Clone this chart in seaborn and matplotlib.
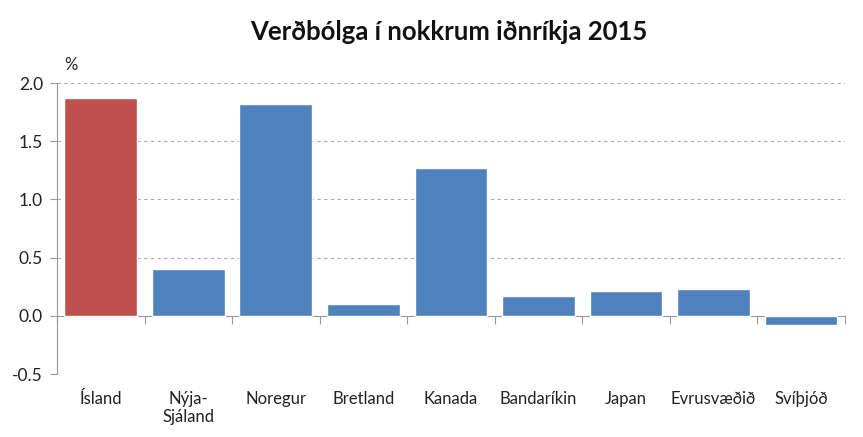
import matplotlib
matplotlib.use("Agg")
import matplotlib.pyplot as plt
import seaborn as sns
import pandas as pd

countries = ["Ísland", "Nýja-\nSjáland", "Noregur", "Bretland", "Kanada",
             "Bandaríkin", "Japan", "Evrusvæðið", "Svíþjóð"]
values = [1.87, 0.40, 1.82, 0.10, 1.27, 0.17, 0.21, 0.23, -0.08]
colors = ["#C0504D"] + ["#4F81BD"] * 8
yticks = [-0.5, 0.0, 0.5, 1.0, 1.5, 2.0]

sns.set_theme(style="white")
plt.rcParams["font.family"] = ["Lato", "DejaVu Sans"]

df = pd.DataFrame({"land": countries, "verdbolga": values})

fig = plt.figure(figsize=(8.63, 4.37), dpi=100)
ax = fig.add_axes([0.066, 0.144, 0.913, 0.666])

sns.barplot(data=df, x="land", y="verdbolga", hue="land", palette=colors,
            legend=False, width=0.83, saturation=1, ax=ax)

ax.set_ylim(-0.5, 2.0)
ax.set_xlim(-0.5, len(countries) - 0.5)
ax.set_yticks(yticks)
ax.set_yticklabels([f"{t:.1f}" for t in yticks], fontsize=12.5, color="#222222")
ax.tick_params(axis="y", length=5, color="#999999", width=0.8, pad=5, left=True)
ax.tick_params(axis="x", length=0, pad=12, labelsize=12, labelcolor="#222222")
ax.set_xlabel("")
ax.set_ylabel("")

for t in yticks:
    if t != 0.0:
        ax.axhline(t, color="#aaaaaa", lw=0.8, ls=(0, (3, 3)), zorder=0)

for s in ["top", "right", "bottom"]:
    ax.spines[s].set_visible(False)
ax.spines["left"].set_color("#999999")
ax.spines["left"].set_linewidth(0.8)

# zero line with category-boundary ticks
zero_frac = (0 - (-0.5)) / 2.5
sec = ax.secondary_xaxis(zero_frac)
sec.set_xticks([i + 0.5 for i in range(-1, len(countries))])
sec.tick_params(length=6, color="#999999", width=0.8, labelbottom=False)
sec.spines["bottom"].set_color("#999999")
sec.spines["bottom"].set_linewidth(0.8)

ax.text(0.009, 1.035, "%", transform=ax.transAxes, fontsize=12, ha="left", va="bottom")
fig.text(0.52, 0.927, "Verðbólga í nokkrum iðnríkja 2015", ha="center", va="center",
         fontsize=18.5, fontweight="bold", color="#111111")

fig.savefig("out.png", dpi=100)
